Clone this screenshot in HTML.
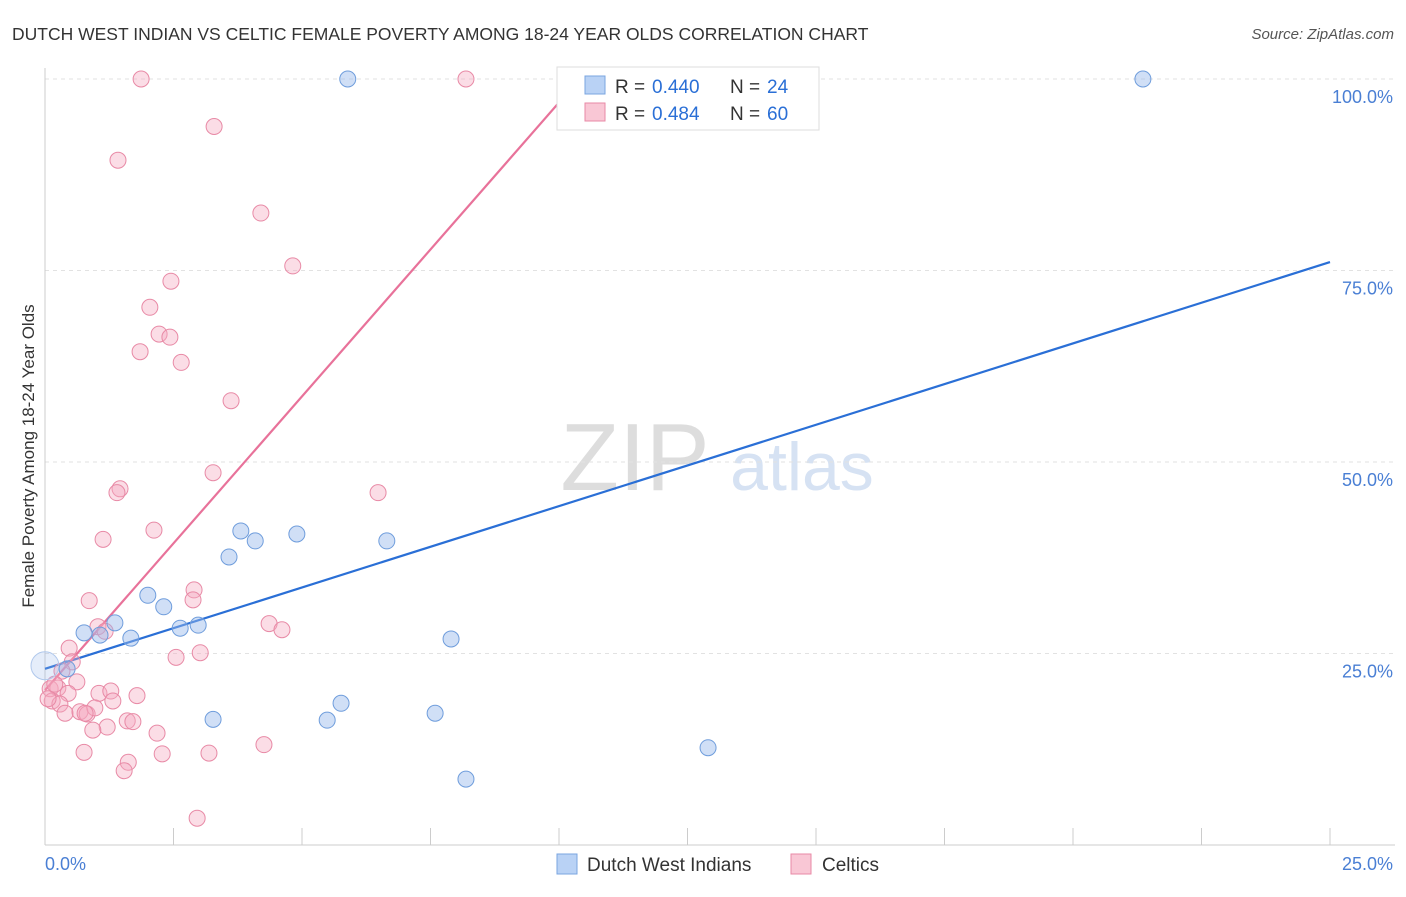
<!DOCTYPE html>
<html><head><meta charset="utf-8"><style>
body{margin:0;background:#fff;font-family:"Liberation Sans",sans-serif;}
svg text{font-family:"Liberation Sans",sans-serif;}
</style></head><body>
<svg id="chart" width="1406" height="892" viewBox="0 0 1406 892" xmlns="http://www.w3.org/2000/svg">
<text x="12" y="40" font-size="17.5" fill="#333">DUTCH WEST INDIAN VS CELTIC FEMALE POVERTY AMONG 18-24 YEAR OLDS CORRELATION CHART</text>
<text x="1394" y="39" font-size="15" fill="#555" font-style="italic" text-anchor="end">Source: ZipAtlas.com</text>
<text transform="translate(34,456) rotate(-90)" font-size="17" fill="#333" text-anchor="middle">Female Poverty Among 18-24 Year Olds</text>
<g>
<text x="635" y="490" font-size="96" fill="#ddd" font-family="Liberation Serif" text-anchor="middle">ZIP</text>
<text x="802" y="490" font-size="68" fill="#d6e2f3" text-anchor="middle">atlas</text>
</g>
<g id="grid"></g><g id="axes"></g><g id="lines"></g><g id="points"></g>
<g>
<rect x="557" y="67" width="262" height="63" fill="#fff" stroke="#ddd"/>
<rect x="585" y="76" width="20" height="18" fill="#b9d2f5" stroke="#7aa5e0"/>
<text x="615" y="93" font-size="19" fill="#333">R =</text>
<text x="652" y="93" font-size="19" fill="#2a6fd6">0.440</text>
<text x="730" y="93" font-size="19" fill="#333">N =</text>
<text x="767" y="93" font-size="19" fill="#2a6fd6">24</text>
<rect x="585" y="103" width="20" height="18" fill="#f9c7d5" stroke="#e88aa6"/>
<text x="615" y="120" font-size="19" fill="#333">R =</text>
<text x="652" y="120" font-size="19" fill="#2a6fd6">0.484</text>
<text x="730" y="120" font-size="19" fill="#333">N =</text>
<text x="767" y="120" font-size="19" fill="#2a6fd6">60</text>
</g>
<g>
<rect x="557" y="854" width="20" height="20" fill="#b9d2f5" stroke="#7aa5e0"/>
<text x="587" y="871" font-size="19" fill="#333">Dutch West Indians</text>
<rect x="791" y="854" width="20" height="20" fill="#f9c7d5" stroke="#e88aa6"/>
<text x="822" y="871" font-size="19" fill="#333">Celtics</text>
</g>
</svg>
<script>
const yTicks=[25,50,75,100];
const yTickLabels=["25.0%","50.0%","75.0%","100.0%"];
const xTicks=[0,2.5,5,7.5,10,12.5,15,17.5,20,22.5,25];
const blueX=[5.89,21.36,0,0.43,0.76,1.07,1.36,1.67,2.00,2.31,2.63,2.98,3.27,3.58,3.81,4.09,4.90,5.49,5.76,6.65,7.59,7.90,8.19,12.90];
const blueY=[100,100,23.4,23.0,27.7,27.4,29.0,27.0,32.6,31.1,28.3,28.7,16.4,37.6,41.0,39.7,40.6,16.3,18.5,39.7,17.2,26.9,8.6,12.7];
const pinkX=[1.87,8.19,3.29,1.42,4.20,4.82,2.45,2.04,2.22,2.43,1.85,2.65,3.62,3.27,1.46,1.40,6.48,2.12,1.13,0.86,2.90,2.88,1.03,1.17,4.36,4.61,0.47,2.55,3.02,0.53,0.33,0.62,0.10,0.25,0.45,1.05,1.28,1.79,1.32,0.14,0.29,0.39,0.68,0.82,0.97,0.78,1.60,1.71,1.21,0.93,2.18,1.62,2.28,0.76,3.19,4.26,1.54,2.96,0.06,0.19];
const pinkY=[100,100,93.8,89.4,82.5,75.6,73.6,70.2,66.7,66.3,64.4,63.0,58.0,48.6,46.5,46.0,46.0,41.1,39.9,31.9,33.3,32.0,28.5,27.9,28.9,28.1,25.7,24.5,25.1,23.9,22.7,21.3,20.4,20.5,19.8,19.8,20.1,19.5,18.8,18.8,18.4,17.2,17.4,17.1,17.9,17.2,16.2,16.1,15.4,15.0,14.6,10.8,11.9,12.1,12.0,13.1,9.7,3.5,19.1,21.0];
const blueTrend=[[0,23.0],[25,76.1]];
const pinkTrend=[[0,20.2],[10.4,100]];
const NS="http://www.w3.org/2000/svg";
const X=v=>45+v/25*1285, Y=v=>845-v/100*766;
function mk(t,a,p){const e=document.createElementNS(NS,t);for(const k in a)e.setAttribute(k,a[k]);p.appendChild(e);return e;}
const grid=document.getElementById('grid'),axes=document.getElementById('axes'),lines=document.getElementById('lines'),pts=document.getElementById('points');
yTicks.forEach((t,i)=>{
 const l=mk('line',{x1:45,x2:1395,y1:Y(t),y2:Y(t),stroke:'#e2e2e2','stroke-dasharray':'4,4'},grid);
 
 
 const tx=mk('text',{x:1393,y:Y(t)+24,'font-size':18,fill:'#4a7fd4','text-anchor':'end'},axes);
 tx.textContent=yTickLabels[i];
 
 
});
const ax=mk('line',{x1:45,x2:45,y1:68,y2:845,stroke:'#ccc'},axes);


const bx=mk('line',{x1:45,x2:1395,y1:845,y2:845,stroke:'#ccc'},axes);


xTicks.forEach(t=>{const l=mk('line',{x1:X(t),x2:X(t),y1:828,y2:845,stroke:'#ccc'},axes);
 
 });
const x0=mk('text',{x:45,y:870,'font-size':18,fill:'#4a7fd4'},axes);x0.textContent='0.0%';


const x1=mk('text',{x:1393,y:870,'font-size':18,fill:'#4a7fd4','text-anchor':'end'},axes);x1.textContent='25.0%';


pinkX.forEach((v,i)=>{const c=mk('circle',{cx:X(v),cy:Y(pinkY[i]),r:8,fill:'rgba(245,170,192,0.4)',stroke:'#e88aa6','stroke-width':1},pts);
 
 });
blueX.forEach((v,i)=>{const big=i==2;const c=mk('circle',{cx:X(v),cy:Y(blueY[i]),r:big?14:8,fill:big?'rgba(150,185,235,0.25)':'rgba(150,185,235,0.45)',stroke:big?'#b0c8ec':'#6f9ddc','stroke-width':1},pts);
 
 });
const bl=mk('line',{x1:X(blueTrend[0][0]),y1:Y(blueTrend[0][1]),x2:X(blueTrend[1][0]),y2:Y(blueTrend[1][1]),stroke:'#2a6fd6','stroke-width':2.2},lines);


const pl=mk('line',{x1:X(pinkTrend[0][0]),y1:Y(pinkTrend[0][1]),x2:X(pinkTrend[1][0]),y2:Y(pinkTrend[1][1]),stroke:'#e8729a','stroke-width':2.2},lines);


</script>
</body></html>
